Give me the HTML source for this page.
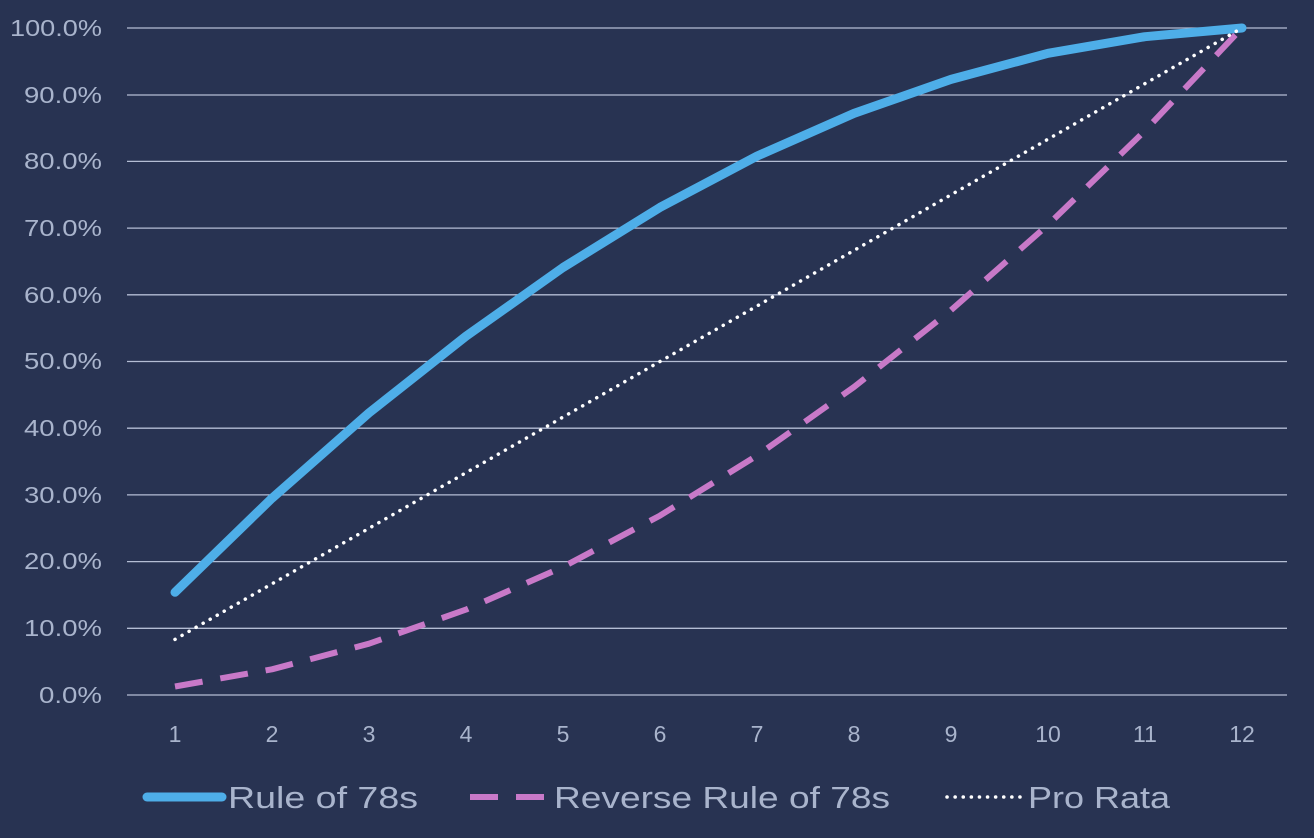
<!DOCTYPE html>
<html><head><meta charset="utf-8"><style>
html,body{margin:0;padding:0;background:#283352;}
svg{display:block;font-family:"Liberation Sans",sans-serif;}
</style></head><body>
<svg width="1314" height="838" viewBox="0 0 1314 838" xmlns="http://www.w3.org/2000/svg">
<rect width="1314" height="838" fill="#283352"/>
<g stroke="#b4bdd4" stroke-width="1.3">
<line x1="127" x2="1287" y1="28" y2="28"/><line x1="127" x2="1287" y1="95" y2="95"/>
<line x1="127" x2="1287" y1="161.4" y2="161.4"/><line x1="127" x2="1287" y1="228.1" y2="228.1"/>
<line x1="127" x2="1287" y1="294.8" y2="294.8"/><line x1="127" x2="1287" y1="361.5" y2="361.5"/>
<line x1="127" x2="1287" y1="428.2" y2="428.2"/><line x1="127" x2="1287" y1="494.9" y2="494.9"/>
<line x1="127" x2="1287" y1="561.6" y2="561.6"/><line x1="127" x2="1287" y1="628.3" y2="628.3"/>
<line x1="127" x2="1287" y1="695" y2="695"/>
</g>
<g fill="#a9b4cc" font-size="23" text-anchor="end" lengthAdjust="spacingAndGlyphs">
<text x="102" y="36" textLength="92" lengthAdjust="spacingAndGlyphs">100.0%</text>
<text x="102" y="103" textLength="78" lengthAdjust="spacingAndGlyphs">90.0%</text>
<text x="102" y="169" textLength="78" lengthAdjust="spacingAndGlyphs">80.0%</text>
<text x="102" y="236" textLength="78" lengthAdjust="spacingAndGlyphs">70.0%</text>
<text x="102" y="303" textLength="78" lengthAdjust="spacingAndGlyphs">60.0%</text>
<text x="102" y="369" textLength="78" lengthAdjust="spacingAndGlyphs">50.0%</text>
<text x="102" y="436" textLength="78" lengthAdjust="spacingAndGlyphs">40.0%</text>
<text x="102" y="503" textLength="78" lengthAdjust="spacingAndGlyphs">30.0%</text>
<text x="102" y="569" textLength="78" lengthAdjust="spacingAndGlyphs">20.0%</text>
<text x="102" y="636" textLength="78" lengthAdjust="spacingAndGlyphs">10.0%</text>
<text x="102" y="703" textLength="63" lengthAdjust="spacingAndGlyphs">0.0%</text>
</g>
<g fill="#a9b4cc" font-size="23" text-anchor="middle">
<text x="175" y="742">1</text><text x="272" y="742">2</text><text x="369" y="742">3</text><text x="466" y="742">4</text>
<text x="563" y="742">5</text><text x="660" y="742">6</text><text x="757" y="742">7</text><text x="854" y="742">8</text>
<text x="951" y="742">9</text><text x="1048" y="742">10</text><text x="1145" y="742">11</text><text x="1242" y="742">12</text>
</g>
<polyline fill="none" stroke="#4eaee8" stroke-width="9" stroke-linecap="round" stroke-linejoin="round"
points="175,592.3 272,498.2 369,412.9 466,336.2 563,267.5 660,207.4 757,156.1 854,113.4 951,79.4 1048,53.3 1145,36.7 1242,28"/>
<polyline fill="none" stroke="#c879c8" stroke-width="6" stroke-dasharray="28,18" stroke-linejoin="round"
points="175,686.5 272,669.3 369,643.7 466,609.6 563,566.9 660,515.6 757,455.6 854,387 951,310.2 1048,224.8 1145,130.7 1242,28"/>
<polyline fill="none" stroke="#ffffff" stroke-width="3.5" stroke-dasharray="0.1,8" stroke-linecap="round"
points="175,639.4 272,583.8 369,528.3 466,472.7 563,417.1 660,361.5 757,306 854,250.4 951,194.8 1048,139.2 1145,83.6 1242,28"/>
<g font-size="31" fill="#a9b4cc">
<line x1="147" x2="222" y1="797" y2="797" stroke="#4eaee8" stroke-width="9" stroke-linecap="round"/>
<text x="228" y="808" textLength="190" lengthAdjust="spacingAndGlyphs">Rule of 78s</text>
<line x1="470" x2="548" y1="797" y2="797" stroke="#c879c8" stroke-width="6" stroke-dasharray="28,18"/>
<text x="554" y="808" textLength="336" lengthAdjust="spacingAndGlyphs">Reverse Rule of 78s</text>
<line x1="947" x2="1022" y1="797" y2="797" stroke="#ffffff" stroke-width="3.5" stroke-dasharray="0.1,8" stroke-linecap="round"/>
<text x="1028" y="808" textLength="142" lengthAdjust="spacingAndGlyphs">Pro Rata</text>
</g>
</svg>
</body></html>
